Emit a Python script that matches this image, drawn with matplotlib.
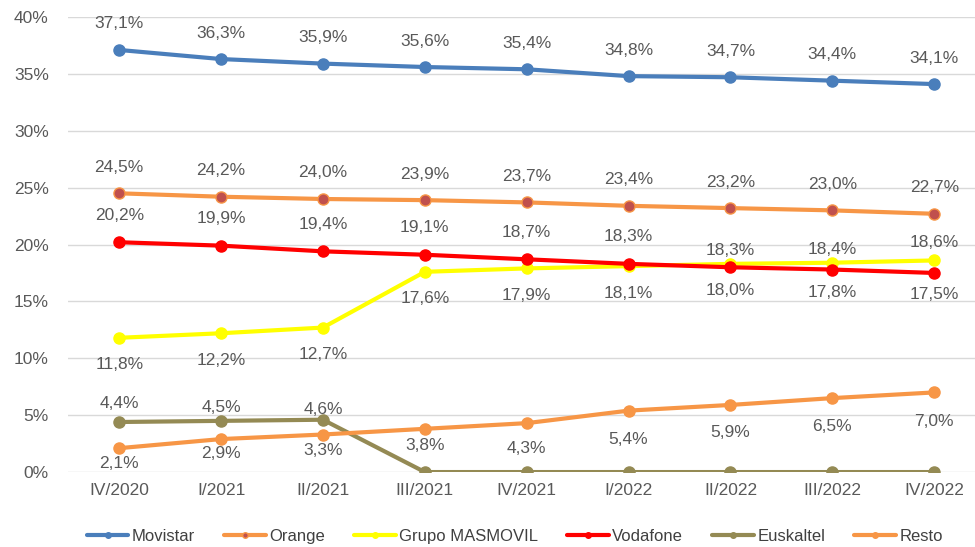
import matplotlib
matplotlib.use("Agg")
import matplotlib.pyplot as plt

plt.rcParams["font.family"] = ["Liberation Sans", "DejaVu Sans"]

quarters = ["IV/2020", "I/2021", "II/2021", "III/2021", "IV/2021",
            "I/2022", "II/2022", "III/2022", "IV/2022"]

movistar = [37.1, 36.3, 35.9, 35.6, 35.4, 34.8, 34.7, 34.4, 34.1]
orange = [24.5, 24.2, 24.0, 23.9, 23.7, 23.4, 23.2, 23.0, 22.7]
masmovil = [11.8, 12.2, 12.7, 17.6, 17.9, 18.1, 18.3, 18.4, 18.6]
vodafone = [20.2, 19.9, 19.4, 19.1, 18.7, 18.3, 18.0, 17.8, 17.5]
euskaltel = [4.4, 4.5, 4.6, 0, 0, 0, 0, 0, 0]
resto = [2.1, 2.9, 3.3, 3.8, 4.3, 5.4, 5.9, 6.5, 7.0]

# vertical label offset in pixels per point (+ above, - below, None = no label)
movistarOff = [26] * 9
orangeOff = [26] * 9
masmovilOff = [-27] * 6 + [13, 13, 18]
vodafoneOff = [27] * 6 + [-23, -23, -22]
euskaltelOff = [18, 13, 10] + [None] * 6
restoOff = [-15, -14, -16, -17, -25, -29, -28, -28, -29]

series = [
    ("Movistar", movistar, movistarOff, "#4a7ebb", "#4a7ebb"),
    ("Orange", orange, orangeOff, "#f79646", "#c0504d"),
    ("Grupo MASMOVIL", masmovil, masmovilOff, "#ffff00", "#ffff00"),
    ("Vodafone", vodafone, vodafoneOff, "#ff0000", "#ff0000"),
    ("Euskaltel", euskaltel, euskaltelOff, "#948a54", "#948a54"),
    ("Resto", resto, restoOff, "#f79646", "#f79646"),
]

textColor = "#595959"
px = 0.72  # points per pixel at dpi 100

fig = plt.figure(figsize=(9.75, 5.47), dpi=100)
ax = fig.add_axes([0.07, 0.137, 0.93, 0.832])

x = list(range(len(quarters)))
for name, vals, offs, color, mface in series:
    ax.plot(x, vals, color=color, linewidth=3, marker="o", markersize=8,
            markerfacecolor=mface, markeredgecolor=color, label=name,
            solid_capstyle="round")
    for xi, v, off in zip(x, vals, offs):
        if off is None:
            continue
        label = f"{v:.1f}%".replace(".", ",")
        ax.annotate(label, (xi, v), xytext=(0, off * px), textcoords="offset points",
                    ha="center", va="center", fontsize=12.5, color=textColor)

ax.set_xlim(-0.5, 8.4)
ax.set_ylim(0, 40)
ax.set_yticks(range(0, 41, 5))
ax.set_yticklabels([f"{t}%" for t in range(0, 41, 5)])
ax.set_xticks(x)
ax.set_xticklabels(quarters)
ax.tick_params(length=0, labelsize=12.5, colors=textColor, pad=8)
ax.tick_params(axis="y", pad=14)
ax.grid(axis="y", color="#d9d9d9", linewidth=1)
ax.set_axisbelow(True)
for s in ax.spines.values():
    s.set_visible(False)

fig.legend(loc="center", bbox_to_anchor=(0.528, 0.02), ncol=6,
           frameon=False, fontsize=12, handlelength=2.5, markerscale=0.5,
           columnspacing=1.75, handletextpad=0.2, labelcolor="#404040")

fig.savefig("out.png", dpi=100)
